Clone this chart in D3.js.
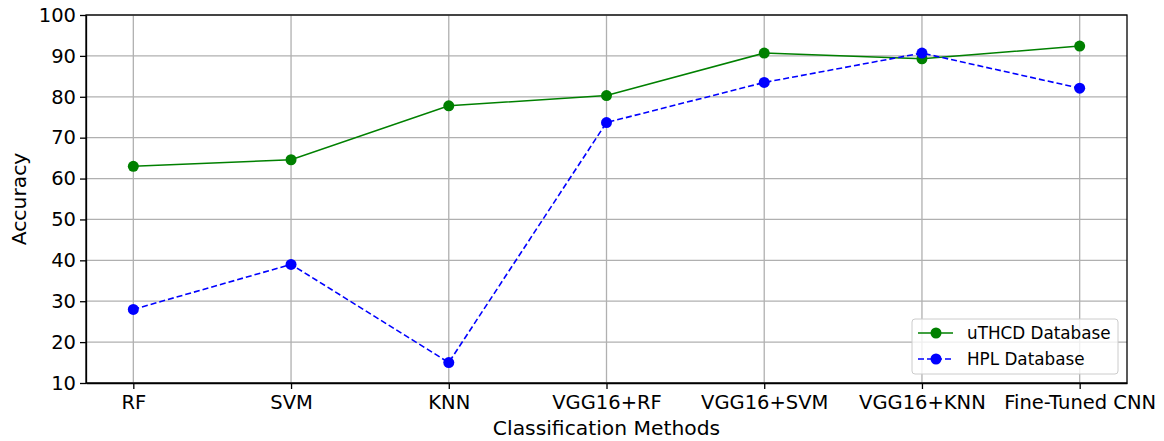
<!DOCTYPE html>
<html>
<head>
    <title>Classification Accuracy</title>
    <script src="https://d3js.org/d3.v7.min.js"></script>
    <style>
        body {
            margin: 0;
            padding: 0;
            background-color: #fff;
            font-family: 'DejaVu Sans', sans-serif;
        }
        .grid line {
            stroke: #b0b0b0;
            stroke-width: 1.3;
        }
        .axis path, .axis line {
            stroke: #000;
            stroke-width: 1.3;
        }
    </style>
</head>
<body>
    <svg id="chart" width="1164" height="441"></svg>

    <script>
        // data
        const methods = ["RF", "SVM", "KNN", "VGG16+RF", "VGG16+SVM", "VGG16+KNN", "Fine-Tuned CNN"];
        const uthcd = [63.0, 64.6, 77.8, 80.3, 90.7, 89.3, 92.4];
        const hpl = [28.0, 39.0, 15.0, 73.7, 83.5, 90.7, 82.1];
        const yTicks = [10, 20, 30, 40, 50, 60, 70, 80, 90, 100];

        const series = [
            { name: "uTHCD Database", values: uthcd, color: "#008000", dash: null },
            { name: "HPL Database", values: hpl, color: "#0000ff", dash: "6,3" }
        ];

        const plotLeft = 86, plotRight = 1127, plotTop = 15, plotBottom = 383;
        const svg = d3.select("#chart");

        // matplotlib style margins: 5% of the index range on each side
        const x = d3.scaleLinear()
            .domain([-0.3, methods.length - 1 + 0.3])
            .range([plotLeft, plotRight]);
        const y = d3.scaleLinear()
            .domain([10, 100])
            .range([plotBottom, plotTop]);

        // grid
        const grid = svg.append("g").attr("class", "grid");
        grid.selectAll(".gx").data(methods).enter().append("line")
            .attr("x1", (d, i) => x(i)).attr("x2", (d, i) => x(i))
            .attr("y1", plotTop).attr("y2", plotBottom);
        grid.selectAll(".gy").data(yTicks).enter().append("line")
            .attr("x1", plotLeft).attr("x2", plotRight)
            .attr("y1", d => y(d)).attr("y2", d => y(d));

        // axes
        const xAxis = d3.axisBottom(x)
            .tickValues(d3.range(methods.length))
            .tickFormat(i => methods[i])
            .tickSize(6).tickPadding(6).tickSizeOuter(0);
        const gx = svg.append("g").attr("class", "axis")
            .attr("transform", `translate(0,${plotBottom})`)
            .call(xAxis);
        gx.selectAll("text").attr("font-size", 19.5).attr("fill", "#000")
            .attr("font-family", "'DejaVu Sans', sans-serif");

        const yAxis = d3.axisLeft(y)
            .tickValues(yTicks)
            .tickSize(6).tickPadding(4).tickSizeOuter(0);
        const gy = svg.append("g").attr("class", "axis")
            .attr("transform", `translate(${plotLeft},0)`)
            .call(yAxis);
        gy.selectAll("text").attr("font-size", 19.5).attr("fill", "#000")
            .attr("font-family", "'DejaVu Sans', sans-serif");

        // frame
        svg.append("rect")
            .attr("x", plotLeft).attr("y", plotTop)
            .attr("width", plotRight - plotLeft).attr("height", plotBottom - plotTop)
            .attr("fill", "none").attr("stroke", "#000").attr("stroke-width", 1.3);

        // lines and markers
        const line = d3.line()
            .x((d, i) => x(i))
            .y(d => y(d));

        series.forEach(s => {
            svg.append("path")
                .datum(s.values)
                .attr("d", line)
                .attr("fill", "none")
                .attr("stroke", s.color)
                .attr("stroke-width", 1.6)
                .attr("stroke-dasharray", s.dash);
            svg.selectAll(null).data(s.values).enter().append("circle")
                .attr("cx", (d, i) => x(i))
                .attr("cy", d => y(d))
                .attr("r", 5.5)
                .attr("fill", s.color);
        });

        // axis labels
        svg.append("text")
            .attr("x", (plotLeft + plotRight) / 2).attr("y", 435)
            .attr("text-anchor", "middle")
            .attr("font-size", 20.3)
            .text("Classification Methods");
        svg.append("text")
            .attr("transform", `translate(26,${(plotTop + plotBottom) / 2}) rotate(-90)`)
            .attr("text-anchor", "middle")
            .attr("font-size", 20.3)
            .text("Accuracy");

        // legend
        const lg = svg.append("g").attr("transform", "translate(912,319)");
        lg.append("rect")
            .attr("width", 206).attr("height", 55)
            .attr("rx", 3)
            .attr("fill", "#fff").attr("fill-opacity", 0.8)
            .attr("stroke", "#ccc").attr("stroke-width", 1);
        series.forEach((s, i) => {
            const ry = 14 + i * 26;
            lg.append("line")
                .attr("x1", 6).attr("x2", 41)
                .attr("y1", ry).attr("y2", ry)
                .attr("stroke", s.color).attr("stroke-width", 1.6)
                .attr("stroke-dasharray", s.dash);
            lg.append("circle")
                .attr("cx", 24).attr("cy", ry).attr("r", 5.5)
                .attr("fill", s.color);
            lg.append("text")
                .attr("x", 55).attr("y", ry).attr("dy", "0.35em")
                .attr("font-size", 16.8)
                .text(s.name);
        });
    </script>
</body>
</html>
